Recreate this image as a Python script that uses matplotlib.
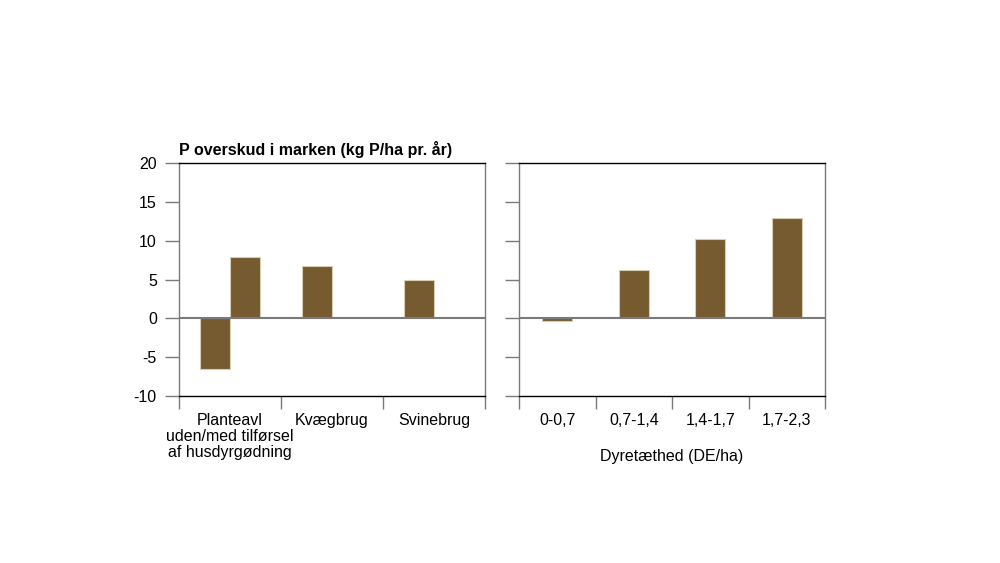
import numpy as np
import matplotlib
matplotlib.use('Agg')
import matplotlib.pyplot as plt

plt.rcParams['font.family'] = ['Liberation Sans', 'DejaVu Sans']
plt.rcParams['font.size'] = 11.5
plt.rcParams['axes.unicode_minus'] = False

# venstre panel: brugstype
brug = ['Planteavl\nuden/med tilførsel\naf husdyrgødning', 'Kvægbrug', 'Svinebrug']
uden = [-6.5, 6.8, 5.0]
med = [7.9, np.nan, np.nan]

# højre panel: dyretæthed
dyretaethed = ['0-0,7', '0,7-1,4', '1,4-1,7', '1,7-2,3']
overskud = [-0.3, 6.2, 10.2, 12.9]

brun = '#765a30'
kant = '#d9cdb2'
graa = '#7a7a7a'

fig = plt.figure(figsize=(10, 5.63), dpi=100)
ax1 = fig.add_axes([0.179, 0.2966, 0.306, 0.4139])
ax2 = fig.add_axes([0.519, 0.2966, 0.306, 0.4139])


def style(ax, n):
    ax.set_ylim(-10, 20)
    ax.set_yticks([-10, -5, 0, 5, 10, 15, 20])
    ax.set_xlim(0, n)
    ax.set_xticks(np.arange(n + 1))
    ax.set_xticklabels([])
    ax.set_xticks(np.arange(n) + 0.5, minor=True)
    ax.tick_params(axis='x', which='major', direction='out', length=9, width=1, color=graa)
    ax.tick_params(axis='x', which='minor', length=0, pad=12)
    ax.tick_params(axis='y', direction='out', length=10, width=1, color=graa, pad=6)
    for s in ['left', 'right']:
        ax.spines[s].set_color(graa)
        ax.spines[s].set_linewidth(1)
    for s in ['top', 'bottom']:
        ax.spines[s].set_color('black')
        ax.spines[s].set_linewidth(1)
    ax.axhline(0, color=graa, linewidth=1.5, zorder=3)


style(ax1, len(brug))
x1 = np.arange(len(brug)) + 0.5
w1 = 0.294
ax1.bar(x1 - w1 / 2, uden, w1, color=brun, edgecolor=kant, linewidth=0.8, zorder=2)
ax1.bar(x1 + w1 / 2, med, w1, color=brun, edgecolor=kant, linewidth=0.8, zorder=2)
ax1.set_xticklabels(brug, minor=True, linespacing=1.1, va='top')
ax1.text(0.0, 1.02, 'P overskud i marken (kg P/ha pr. år)', transform=ax1.transAxes,
         fontweight='bold', fontsize=11.5, ha='left', va='bottom')

style(ax2, len(dyretaethed))
x2 = np.arange(len(dyretaethed)) + 0.5
ax2.bar(x2, overskud, 0.39, color=brun, edgecolor=kant, linewidth=0.8, zorder=2)
ax2.set_yticklabels([])
ax2.set_xticklabels(dyretaethed, minor=True)
ax2.set_xlabel('Dyretæthed (DE/ha)', labelpad=15)

fig.savefig('out.png', dpi=100)
